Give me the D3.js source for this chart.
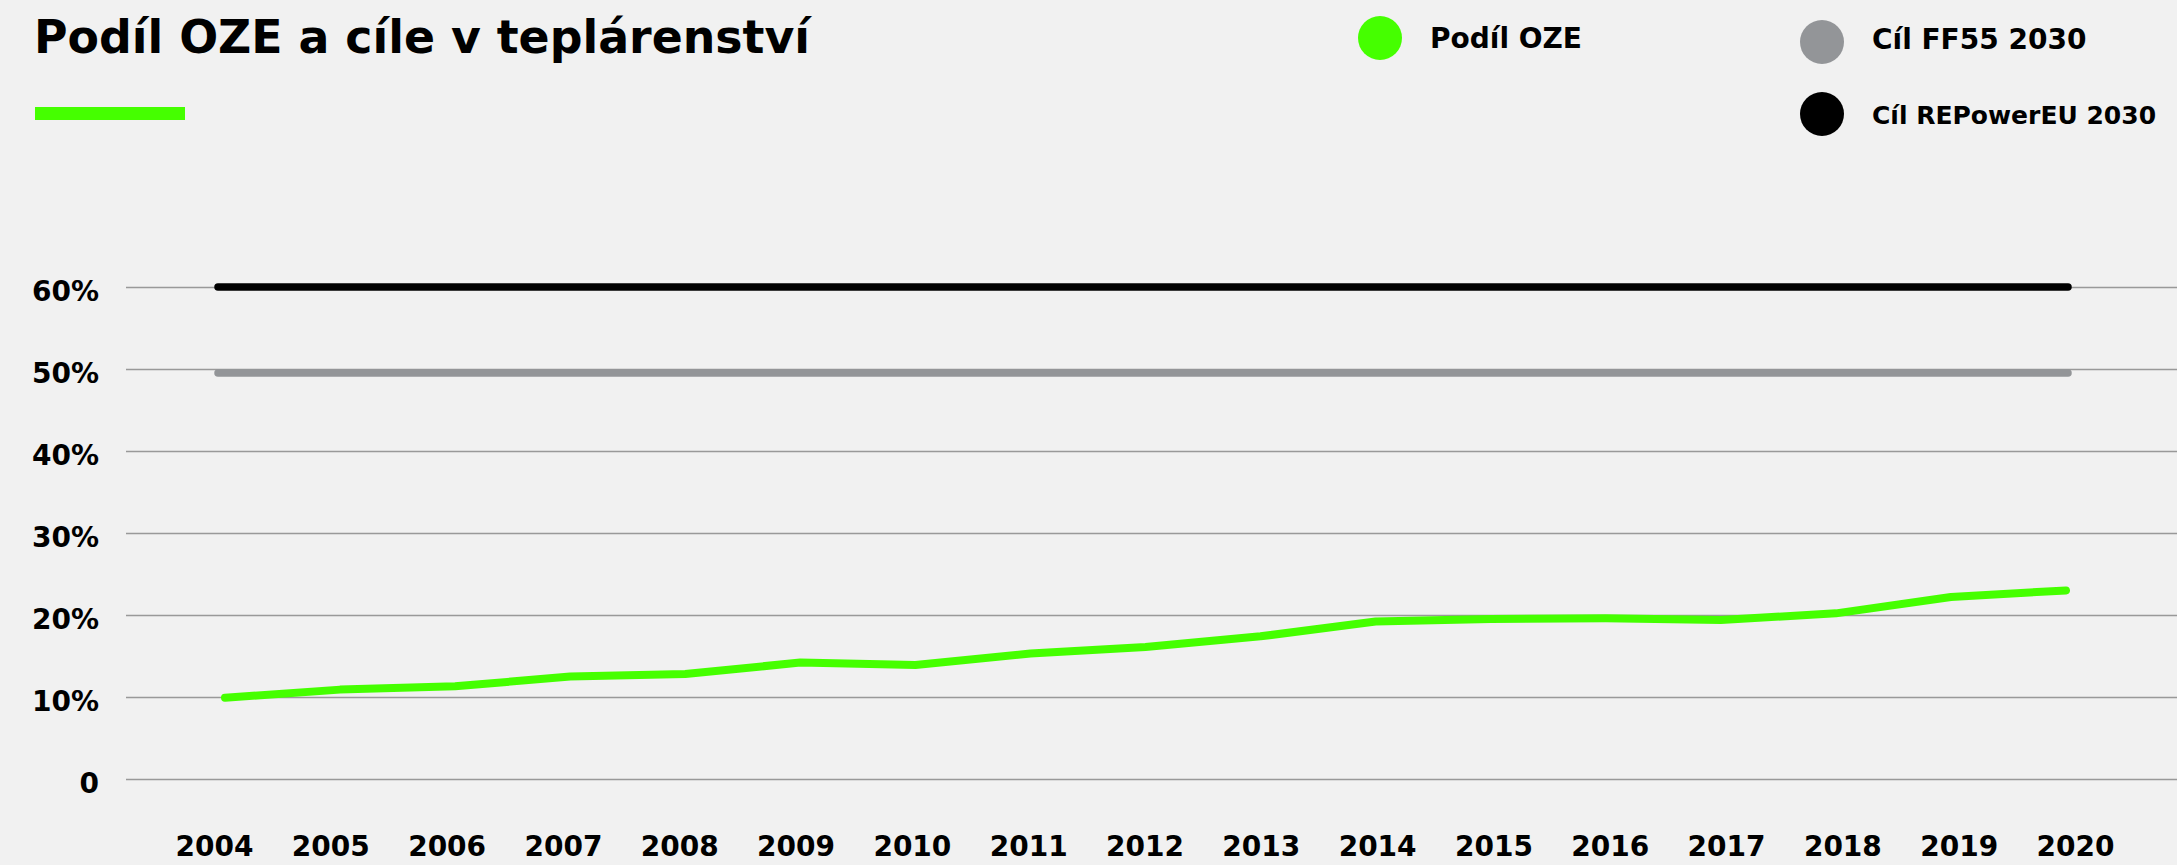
<!DOCTYPE html>
<html>
<head>
<meta charset="utf-8">
<script src="https://cdn.jsdelivr.net/npm/d3@7"></script>
<style>
    html, body { margin: 0; padding: 0; background: #f1f1f1; }
    svg { display: block; font-family: "DejaVu Sans", sans-serif; }
    .tick text { font-family: "DejaVu Sans", sans-serif; font-weight: bold; font-size: 28px; fill: #000; }
</style>
</head>
<body>
<div id="chart"></div>
<script>
// Chart data
const years = [2004, 2005, 2006, 2007, 2008, 2009, 2010, 2011, 2012, 2013, 2014, 2015, 2016, 2017, 2018, 2019, 2020];
const shareRES = [9.9, 10.9, 11.3, 12.5, 12.8, 14.2, 13.9, 15.3, 16.1, 17.4, 19.2, 19.5, 19.6, 19.4, 20.2, 22.2, 23.0];
const targetNames = ['Cíl FF55 2030', 'Cíl REPowerEU 2030'];
const targetValues = [49.5, 60];
const yTicks = [0, 10, 20, 30, 40, 50, 60];
const legendNames = ['Podíl OZE', 'Cíl FF55 2030', 'Cíl REPowerEU 2030'];
const legendColors = ['#45ff00', '#939598', '#000000'];

const width = 2177;
const height = 865;

const svg = d3.select('#chart')
    .append('svg')
    .attr('width', width)
    .attr('height', height);

svg.append('rect')
    .attr('width', width)
    .attr('height', height)
    .attr('fill', '#f1f1f1');

// Scales
const x = d3.scalePoint().domain(years).range([225, 2066]);
const xLabels = d3.scalePoint().domain(years).range([214, 2075]);
const y = d3.scaleLinear().domain([0, 60]).range([779, 287]);

// Gridlines + y labels
const yAxis = svg.append('g')
    .attr('transform', 'translate(126,0)')
    .call(d3.axisLeft(y)
        .tickValues(yTicks)
        .tickSize(-(width - 126))
        .tickPadding(27)
        .tickFormat(d => d === 0 ? '0' : d + '%'));
yAxis.select('.domain').remove();
yAxis.selectAll('.tick line')
    .attr('stroke', '#999')
    .attr('stroke-width', 1.5);
yAxis.selectAll('.tick text').attr('dy', '0.72em').attr('y', -7);

// x labels
const xAxis = svg.append('g')
    .attr('transform', 'translate(0,835)')
    .call(d3.axisBottom(xLabels).tickSize(0).tickPadding(0));
xAxis.select('.domain').remove();
xAxis.selectAll('.tick text').attr('dy', '0.74em');

// Target lines
svg.append('g')
    .selectAll('line')
    .data(targetValues)
    .join('line')
    .attr('x1', x(years[0]) - 7)
    .attr('x2', x(years[years.length - 1]) + 2)
    .attr('y1', d => y(d))
    .attr('y2', d => y(d))
    .attr('stroke', (d, i) => legendColors[i + 1])
    .attr('stroke-width', 7.5)
    .attr('stroke-linecap', 'round');

// Share line
svg.append('path')
    .datum(shareRES)
    .attr('fill', 'none')
    .attr('stroke', legendColors[0])
    .attr('stroke-width', 8)
    .attr('stroke-linecap', 'round')
    .attr('stroke-linejoin', 'round')
    .attr('d', d3.line()
        .x((d, i) => x(years[i]))
        .y(d => y(d)));

// Title
const title = svg.append('text')
    .attr('x', 34)
    .attr('y', 53)
    .attr('font-size', 47)
    .attr('font-weight', 'bold')
    .attr('fill', '#000')
    .text('Podíl OZE a cíle v teplárenství');
// squeeze to the reference width
if (title.node().getComputedTextLength() > 776) {
    title.attr('textLength', 776).attr('lengthAdjust', 'spacingAndGlyphs');
}

svg.append('rect')
    .attr('x', 35)
    .attr('y', 107)
    .attr('width', 150)
    .attr('height', 13)
    .attr('fill', legendColors[0]);

// Legend
const legendPos = [[1380, 38], [1822, 42], [1822, 114]];
const legend = svg.append('g')
    .selectAll('g')
    .data(legendNames)
    .join('g')
    .attr('transform', (d, i) => `translate(${legendPos[i][0]},${legendPos[i][1]})`);

legend.append('circle')
    .attr('r', 22)
    .attr('fill', (d, i) => legendColors[i]);

legend.append('text')
    .attr('x', 50)
    .attr('y', (d, i) => i === 1 ? 7 : 10)
    .attr('font-size', 28)
    .attr('font-weight', 'bold')
    .attr('fill', '#000')
    .text(d => d)
    .each(function(d, i) {
        // shrink the long label so it stays inside the window
        const room = width - 12 - legendPos[i][0] - 50;
        const len = this.getComputedTextLength();
        if (len > room) {
            d3.select(this).attr('font-size', Math.floor(28 * room / len));
        }
    });
</script>
</body>
</html>
